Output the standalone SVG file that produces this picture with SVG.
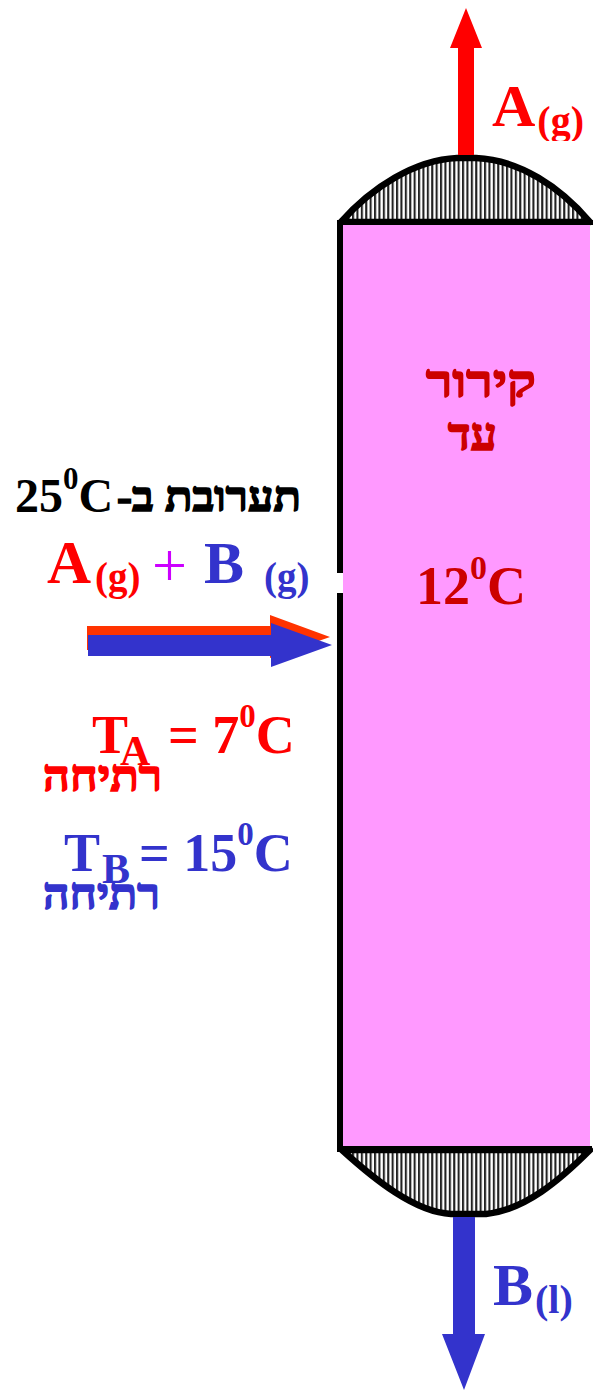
<svg xmlns="http://www.w3.org/2000/svg" width="593" height="1390" viewBox="0 0 593 1390">
<style>
text{font-family:"Liberation Serif","Times New Roman",serif;font-weight:bold}
.r{fill:#ff0000}.b{fill:#3333cc}.k{fill:#000}.d{fill:#cc0000}
.he{direction:rtl;text-anchor:start;stroke-width:1.6;stroke-linejoin:miter}
.r.he{stroke:#ff0000}.b.he{stroke:#3333cc}.k.he{stroke:#000}.d.he{stroke:#cc0000}
.h{fill:url(#hatch);stroke:#000;stroke-width:6.5;stroke-linejoin:round;stroke-linecap:round}
</style>
<defs>
<pattern id="hatch" width="4.4" height="8" patternUnits="userSpaceOnUse"><rect width="4.4" height="8" fill="#fff"/><rect x="0" width="2.1" height="8" fill="#222"/></pattern>
<clipPath id="clip-top"><rect x="480" y="60" width="113" height="81"/></clipPath>
<clipPath id="clip-feed"><rect x="0" y="530" width="335" height="69"/></clipPath>
</defs>
<rect width="593" height="1390" fill="#fff"/>
<g id="column">
<path id="top-cap" class="h" d="M341 222 C372 187 415 160 457 158 L476 158 C520 160 560 187 590 222 Z"/>
<path id="bottom-cap" class="h" d="M342 1150 C375 1180 415 1212 451 1214 L486 1214 C525 1210 560 1180 590 1150 Z"/>
<rect id="body" x="343" y="225" width="247" height="921" fill="#ff99ff"/>
<rect x="337" y="220" width="256" height="5" fill="#000"/>
<rect x="337" y="1146" width="255" height="6" fill="#000"/>
<rect x="337" y="225" width="6" height="927" fill="#000"/>
<rect x="335" y="573" width="8" height="20" fill="#fff"/>
</g>
<g id="connectors">
<polygon id="arrow-top" fill="#ff0000" points="458,155 458,48 450,48 466,8 482,48 474,48 474,155"/>
<polygon id="arrow-bottom" fill="#3333cc" points="453,1217 475,1217 475,1334 485,1334 464,1390 442,1334 453,1334"/>
<polygon id="arrow-feed-a" fill="#ff3300" points="87,626 270,626 270,615 330,637 270,658 270,650 87,650"/>
<polygon id="arrow-feed-b" fill="#3333cc" points="88,635 271,635 271,623 332,645 271,667 271,656 88,656"/>
</g>
<g id="label-a-out" clip-path="url(#clip-top)"><text x="492" y="126" font-size="60" class="r">A<tspan font-size="40" dy="8" dx="2">(g)</tspan></text></g>
<g id="label-b-out"><text x="493" y="1305" font-size="60" class="b">B<tspan font-size="40" dy="8" dx="2">(l)</tspan></text></g>
<g id="label-cool">
<text x="536" y="397" font-size="46" class="d he" textLength="110" lengthAdjust="spacingAndGlyphs">קירור</text>
<text x="497" y="450" font-size="46" class="d he" textLength="49" lengthAdjust="spacingAndGlyphs">עד</text>
</g>
<g id="label-12"><text x="416" y="604" font-size="54" class="d">12<tspan font-size="34" dy="-25">0</tspan><tspan dy="25">C</tspan></text></g>
<g id="label-mixture"><text x="15" y="512" font-size="48" class="k">25<tspan font-size="31" dy="-23">0</tspan><tspan dy="23">C</tspan></text><text x="301" y="511" font-size="42" class="k he" textLength="184" lengthAdjust="spacingAndGlyphs">תערובת ב-</text></g>
<g id="label-feed" clip-path="url(#clip-feed)"><text x="47" y="583" font-size="61" class="r">A</text><text x="95" y="590" font-size="39" class="r">(g)</text><text x="152" y="586" font-size="62" fill="#cc00ff" style="font-weight:normal">+</text><text x="204" y="583" font-size="60" class="b">B</text><text x="264" y="590" font-size="39" class="b">(g)</text></g>
<g id="label-ta"><text x="92" y="753" font-size="54" class="r">T</text><text x="120" y="765" font-size="42" class="r">A</text><text x="168" y="753" font-size="54" class="r">= 7<tspan font-size="33" dy="-26">0</tspan><tspan dy="26">C</tspan></text><text x="162" y="791" font-size="44" class="r he" textLength="119" lengthAdjust="spacingAndGlyphs">רתיחה</text></g>
<g id="label-tb"><text x="64" y="871" font-size="54" class="b">T</text><text x="102" y="883" font-size="42" class="b">B</text><text x="139" y="871" font-size="54" class="b">= 15<tspan font-size="33" dy="-26">0</tspan><tspan dy="26">C</tspan></text><text x="160" y="909" font-size="44" class="b he" textLength="117" lengthAdjust="spacingAndGlyphs">רתיחה</text></g>
</svg>
